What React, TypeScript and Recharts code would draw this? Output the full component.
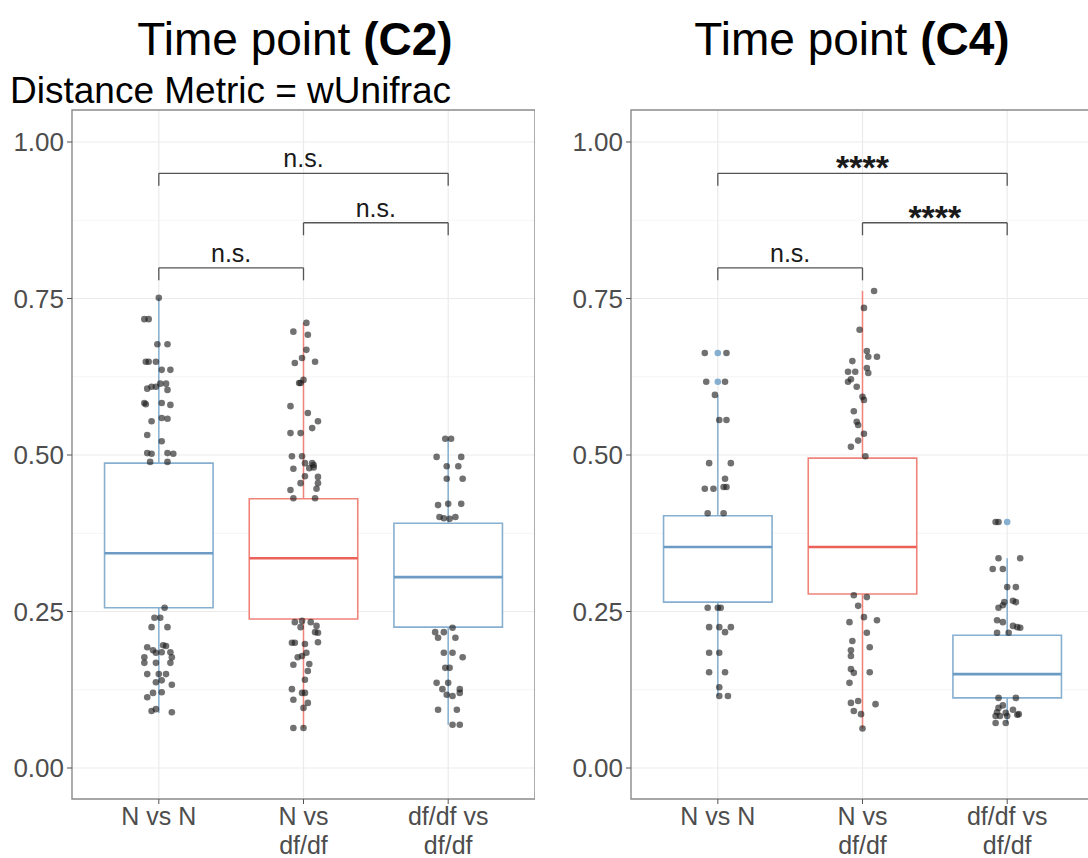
import {
  ComposedChart,
  Scatter,
  XAxis,
  YAxis,
  CartesianGrid,
  ReferenceArea,
  ReferenceLine,
} from 'recharts'

// categories shown on the x axis (\n = line break)
const CATEGORIES = ['N vs N', 'N vs\ndf/df', 'df/df vs\ndf/df']
const Y_TICKS = [0, 0.25, 0.5, 0.75, 1]
const Y_MINOR = [0.125, 0.375, 0.625, 0.875]
const Y_MIN = -0.0495
const Y_MAX = 1.0511

// jittered points: [distance, horizontal jitter in category units]
const c2NvsN: [number, number][] = [
  [0.751, 0], [0.717, -0.1], [0.717, -0.07], [0.677, -0.01], [0.677, 0.06],
  [0.649, -0.09], [0.649, -0.07], [0.649, -0.02], [0.636, 0.02], [0.636, 0.08],
  [0.614, 0.05], [0.614, 0.01], [0.606, -0.08], [0.609, -0.05], [0.609, -0.02],
  [0.604, 0.06], [0.583, -0.1], [0.581, -0.09], [0.583, 0.02], [0.58, 0.08],
  [0.554, -0.05], [0.559, 0.02], [0.558, 0.06], [0.532, -0.08], [0.522, 0.02],
  [0.503, -0.08], [0.502, -0.05], [0.503, 0.06], [0.502, 0.1], [0.489, -0.06],
  [0.489, 0.06], [0.256, 0.04], [0.24, -0.03], [0.24, 0.01], [0.225, -0.05],
  [0.225, 0.06], [0.193, -0.08], [0.188, -0.04], [0.196, 0.03], [0.195, 0.05],
  [0.177, -0.1], [0.184, -0.02], [0.185, 0.02], [0.185, 0.08], [0.177, 0.09],
  [0.168, -0.1], [0.168, -0.02], [0.168, 0.08], [0.15, -0.08], [0.15, 0],
  [0.15, 0.05], [0.137, -0.02], [0.14, 0.02], [0.133, 0.09], [0.113, -0.08],
  [0.12, -0.04], [0.121, 0.02], [0.091, -0.05], [0.094, -0.02], [0.089, 0.09],
]
const c2NvsDf: [number, number][] = [
  [0.711, 0.02], [0.697, -0.07], [0.692, 0.03], [0.668, 0.02], [0.655, -0.01],
  [0.647, -0.06], [0.649, 0.08], [0.62, 0], [0.615, -0.03], [0.615, -0.02],
  [0.578, -0.09], [0.567, 0.03], [0.554, 0.1], [0.543, 0.06], [0.535, -0.09],
  [0.535, -0.02], [0.498, -0.08], [0.498, -0.01], [0.487, 0.01], [0.487, 0.06],
  [0.484, 0.07], [0.478, -0.07], [0.479, 0.04], [0.48, 0.07], [0.465, 0.1],
  [0.455, 0.1], [0.455, -0.02], [0.466, 0.01], [0.446, 0.09], [0.444, -0.09],
  [0.431, -0.07], [0.431, 0.08], [0.233, -0.06], [0.235, -0.01], [0.233, 0.05],
  [0.225, -0.02], [0.227, 0.09], [0.216, 0.1], [0.217, 0.08], [0.2, -0.08],
  [0.2, -0.06], [0.198, 0.01], [0.201, 0.1], [0.177, -0.04], [0.179, -0.01],
  [0.184, 0.02], [0.165, -0.07], [0.166, 0.04], [0.155, 0.03], [0.141, 0.01],
  [0.126, -0.08], [0.12, -0.01], [0.12, 0.01], [0.109, -0.07], [0.104, 0.03],
  [0.096, 0], [0.064, -0.07], [0.064, 0],
]
const c2DfvsDf: [number, number][] = [
  [0.526, -0.02], [0.526, 0.02], [0.497, -0.08], [0.497, 0.09], [0.482, -0.01],
  [0.482, 0.07], [0.462, -0.01], [0.462, 0.1], [0.42, -0.07], [0.422, 0],
  [0.422, 0.09], [0.401, -0.06], [0.399, -0.03], [0.398, 0.01], [0.401, 0.05],
  [0.217, -0.09], [0.217, -0.03], [0.224, 0.03], [0.208, -0.07], [0.208, 0.05],
  [0.184, -0.03], [0.184, 0.03], [0.177, 0.1], [0.16, -0.02], [0.16, 0.01],
  [0.136, -0.08], [0.136, 0], [0.126, -0.04], [0.117, -0.01], [0.115, 0.03],
  [0.126, 0.08], [0.12, 0.08], [0.093, -0.07], [0.093, 0.06], [0.069, 0.03],
  [0.069, 0.08],
]
const c4NvsN: [number, number][] = [
  [0.663, -0.09], [0.663, 0.06], [0.617, -0.08], [0.617, 0.05], [0.596, -0.02],
  [0.556, 0.01], [0.556, 0.06], [0.487, -0.06], [0.487, 0.09], [0.462, 0.05],
  [0.449, 0.06], [0.449, 0.04], [0.446, -0.09], [0.446, -0.03], [0.407, -0.07],
  [0.407, 0.04], [0.256, -0.07], [0.256, 0], [0.256, 0.02], [0.225, -0.06],
  [0.225, 0.01], [0.225, 0.09], [0.217, 0.05], [0.184, -0.06], [0.184, 0.01],
  [0.153, -0.06], [0.153, 0.05], [0.129, 0.01], [0.115, 0.01], [0.115, 0.07],
]
const c4NvsDf: [number, number][] = [
  [0.762, 0.08], [0.735, 0.01], [0.7, -0.02], [0.666, 0.03], [0.657, 0.04],
  [0.657, 0.1], [0.65, -0.07], [0.633, -0.1], [0.633, -0.05], [0.639, 0.03],
  [0.631, 0.04], [0.617, -0.1], [0.621, -0.08], [0.609, -0.04], [0.593, 0],
  [0.588, 0.01], [0.57, -0.06], [0.553, -0.04], [0.548, -0.03], [0.534, 0.01],
  [0.523, -0.03], [0.513, -0.08], [0.498, 0.02], [0.276, -0.06], [0.273, 0.03],
  [0.259, -0.03], [0.241, 0.01], [0.233, -0.09], [0.236, 0.1], [0.216, 0.03],
  [0.203, -0.07], [0.193, 0.05], [0.188, -0.08], [0.179, -0.08], [0.158, -0.08],
  [0.152, -0.06], [0.153, 0.05], [0.136, -0.09], [0.104, -0.08], [0.107, -0.03],
  [0.102, 0.09], [0.091, -0.06], [0.086, -0.01], [0.063, 0],
]
const c4DfvsDf: [number, number][] = [
  [0.393, -0.08], [0.393, -0.06], [0.335, -0.06], [0.335, 0.09], [0.318, -0.1],
  [0.318, -0.03], [0.289, 0], [0.289, 0.06], [0.265, -0.02], [0.267, 0.04],
  [0.265, 0.06], [0.256, -0.06], [0.26, -0.03], [0.236, -0.07], [0.233, -0.03],
  [0.227, 0.04], [0.225, 0.07], [0.224, 0.09], [0.216, -0.07], [0.216, 0.01],
  [0.112, -0.06], [0.112, 0.06], [0.1, -0.03], [0.096, -0.06], [0.089, -0.07],
  [0.093, 0.04], [0.085, 0.07], [0.086, 0.08], [0.088, -0.01], [0.083, -0.08],
  [0.083, -0.05], [0.083, 0], [0.072, -0.08], [0.072, -0.01],
]

// box stats per category: whisker low, q1, median, q3, whisker high
const c2Boxes = [
  { lo: 0.088, q1: 0.256, med: 0.343, q3: 0.487, hi: 0.751 },
  { lo: 0.063, q1: 0.238, med: 0.335, q3: 0.43, hi: 0.711 },
  { lo: 0.069, q1: 0.225, med: 0.305, q3: 0.391, hi: 0.526 },
]
const c4Boxes = [
  { lo: 0.115, q1: 0.265, med: 0.353, q3: 0.403, hi: 0.596 },
  { lo: 0.063, q1: 0.278, med: 0.353, q3: 0.495, hi: 0.762 },
  { lo: 0.072, q1: 0.112, med: 0.15, q3: 0.212, hi: 0.335 },
]
// boxplot outliers: [category, value]
const c2Outliers: [number, number][] = []
const c4Outliers: [number, number][] = [[1, 0.663], [1, 0.617], [3, 0.393]]

// significance brackets
const c2Brackets = [
  { from: 1, to: 3, y: 0.95, label: 'n.s.' },
  { from: 2, to: 3, y: 0.871, label: 'n.s.' },
  { from: 1, to: 2, y: 0.799, label: 'n.s.' },
]
const c4Brackets = [
  { from: 1, to: 3, y: 0.95, label: '****' },
  { from: 2, to: 3, y: 0.871, label: '****' },
  { from: 1, to: 2, y: 0.799, label: 'n.s.' },
]

const BLUE = '#86afd0'
const BLUE_MED = '#6c9cc4'
const RED = '#f0837a'
const RED_MED = '#ec6258'
const BOX_COLORS = [BLUE, RED, BLUE]
const MED_COLORS = [BLUE_MED, RED_MED, BLUE_MED]
const FONT = '"Liberation Sans", Arial, Helvetica, sans-serif'
const HALF = 0.375
const BRACKET_DROP = 0.02

const XTick = (props: any) => {
  const { x, y, payload } = props
  const lines = CATEGORIES[payload.value - 1].split('\n')
  return (
    <text x={x} y={y} textAnchor="middle" fill="#4d4d4d" fontSize={25} fontFamily={FONT}>
      {lines.map((l, i) => (
        <tspan key={i} x={x} dy={i === 0 ? 19 : 29}>
          {l}
        </tspan>
      ))}
    </text>
  )
}

const LabelShape = (props: any) => {
  const { cx, cy, payload } = props
  const stars = payload.label.startsWith('*')
  return (
    <text
      x={cx}
      y={cy + (stars ? 6 : -6)}
      textAnchor="middle"
      fill="#1a1a1a"
      fontSize={stars ? 34 : 25}
      fontWeight={stars ? 'bold' : 'normal'}
      fontFamily={FONT}
    >
      {payload.label}
    </text>
  )
}

const Dot = (props: any) => (
  <circle cx={props.cx} cy={props.cy} r={3.3} fill="#1a1a1a" fillOpacity={0.62} />
)
const OutlierDot = (props: any) => (
  <circle cx={props.cx} cy={props.cy} r={3.3} fill={BLUE} />
)

interface PanelProps {
  groups: [number, number][][]
  boxes: { lo: number; q1: number; med: number; q3: number; hi: number }[]
  outliers: [number, number][]
  brackets: { from: number; to: number; y: number; label: string }[]
  width: number
  yAxisWidth: number
}

const Panel = ({ groups, boxes, outliers, brackets, width, yAxisWidth }: PanelProps) => {
  const points = groups.flatMap((g, i) => g.map(([v, j]) => ({ x: i + 1 + j, y: v })))
  const outlierPts = outliers.map(([c, v]) => ({ x: c, y: v }))
  const labelPts = brackets.map(b => ({ x: (b.from + b.to) / 2, y: b.y, label: b.label }))

  return (
    <ComposedChart width={width} height={858} margin={{ top: 110, right: 0, bottom: 0, left: 0 }}>
      <CartesianGrid
        horizontalValues={Y_MINOR}
        vertical={false}
        stroke="#f3f3f3"
        strokeWidth={0.8}
      />
      <CartesianGrid
        horizontalValues={Y_TICKS}
        verticalValues={[1, 2, 3]}
        stroke="#ebebeb"
        strokeWidth={1.2}
      />
      <XAxis
        type="number"
        dataKey="x"
        domain={[0.4, 3.6]}
        ticks={[1, 2, 3]}
        allowDataOverflow
        height={59}
        axisLine={false}
        tickSize={5}
        tickLine={{ stroke: '#555' }}
        tick={<XTick />}
      />
      <YAxis
        type="number"
        dataKey="y"
        domain={[Y_MIN, Y_MAX]}
        ticks={Y_TICKS}
        allowDataOverflow
        width={yAxisWidth}
        axisLine={false}
        tickSize={5}
        tickMargin={3}
        tickLine={{ stroke: '#555' }}
        tickFormatter={v => v.toFixed(2)}
        tick={{ fill: '#4d4d4d', fontSize: 26, fontFamily: FONT }}
      />
      {/* panel border */}
      <ReferenceArea
        x1={0.4}
        x2={3.6}
        y1={Y_MIN}
        y2={Y_MAX}
        fill="none"
        stroke="#8a8a8a"
        strokeWidth={1.4}
      />
      {/* boxplots */}
      {boxes.map((b, i) => (
        <ReferenceLine
          key={`wl${i}`}
          segment={[{ x: i + 1, y: b.lo }, { x: i + 1, y: b.q1 }]}
          stroke={BOX_COLORS[i]}
          strokeWidth={1.5}
        />
      ))}
      {boxes.map((b, i) => (
        <ReferenceLine
          key={`wh${i}`}
          segment={[{ x: i + 1, y: b.q3 }, { x: i + 1, y: b.hi }]}
          stroke={BOX_COLORS[i]}
          strokeWidth={1.5}
        />
      ))}
      {boxes.map((b, i) => (
        <ReferenceArea
          key={`b${i}`}
          x1={i + 1 - HALF}
          x2={i + 1 + HALF}
          y1={b.q1}
          y2={b.q3}
          fill="#fff"
          fillOpacity={1}
          stroke={BOX_COLORS[i]}
          strokeWidth={1.6}
        />
      ))}
      {boxes.map((b, i) => (
        <ReferenceLine
          key={`m${i}`}
          segment={[{ x: i + 1 - HALF, y: b.med }, { x: i + 1 + HALF, y: b.med }]}
          stroke={MED_COLORS[i]}
          strokeWidth={2.6}
        />
      ))}
      {/* significance brackets */}
      {brackets.map((b, i) => (
        <ReferenceLine
          key={`br${i}`}
          segment={[{ x: b.from, y: b.y }, { x: b.to, y: b.y }]}
          stroke="#555"
          strokeWidth={1.3}
        />
      ))}
      {brackets.map((b, i) => (
        <ReferenceLine
          key={`bl${i}`}
          segment={[{ x: b.from, y: b.y }, { x: b.from, y: b.y - BRACKET_DROP }]}
          stroke="#555"
          strokeWidth={1.3}
        />
      ))}
      {brackets.map((b, i) => (
        <ReferenceLine
          key={`bt${i}`}
          segment={[{ x: b.to, y: b.y }, { x: b.to, y: b.y - BRACKET_DROP }]}
          stroke="#555"
          strokeWidth={1.3}
        />
      ))}
      <Scatter data={outlierPts} shape={<OutlierDot />} isAnimationActive={false} />
      <Scatter data={points} shape={<Dot />} isAnimationActive={false} />
      <Scatter data={labelPts} shape={<LabelShape />} isAnimationActive={false} />
    </ComposedChart>
  )
}

export default function App() {
  return (
    <div
      style={{
        position: 'absolute',
        left: 0,
        top: 0,
        width: 1088,
        height: 858,
        overflow: 'hidden',
        background: '#fff',
        fontFamily: FONT,
      }}
    >
      <svg width={1088} height={858} style={{ position: 'absolute', left: 0, top: 0 }}>
        <text x={295} y={55} textAnchor="middle" fontSize={46} fill="#000" fontFamily={FONT}>
          Time point <tspan fontWeight="bold">(C2)</tspan>
        </text>
        <text x={852} y={55} textAnchor="middle" fontSize={46} fill="#000" fontFamily={FONT}>
          Time point <tspan fontWeight="bold">(C4)</tspan>
        </text>
        <text x={10} y={103} fontSize={37} fill="#000" fontFamily={FONT}>
          Distance Metric = wUnifrac
        </text>
      </svg>
      <div style={{ position: 'absolute', left: 0, top: 0 }}>
        <Panel
          groups={[c2NvsN, c2NvsDf, c2DfvsDf]}
          boxes={c2Boxes}
          outliers={c2Outliers}
          brackets={c2Brackets}
          width={535}
          yAxisWidth={72}
        />
      </div>
      <div style={{ position: 'absolute', left: 558, top: 0 }}>
        <Panel
          groups={[c4NvsN, c4NvsDf, c4DfvsDf]}
          boxes={c4Boxes}
          outliers={c4Outliers}
          brackets={c4Brackets}
          width={536}
          yAxisWidth={73}
        />
      </div>
    </div>
  )
}
